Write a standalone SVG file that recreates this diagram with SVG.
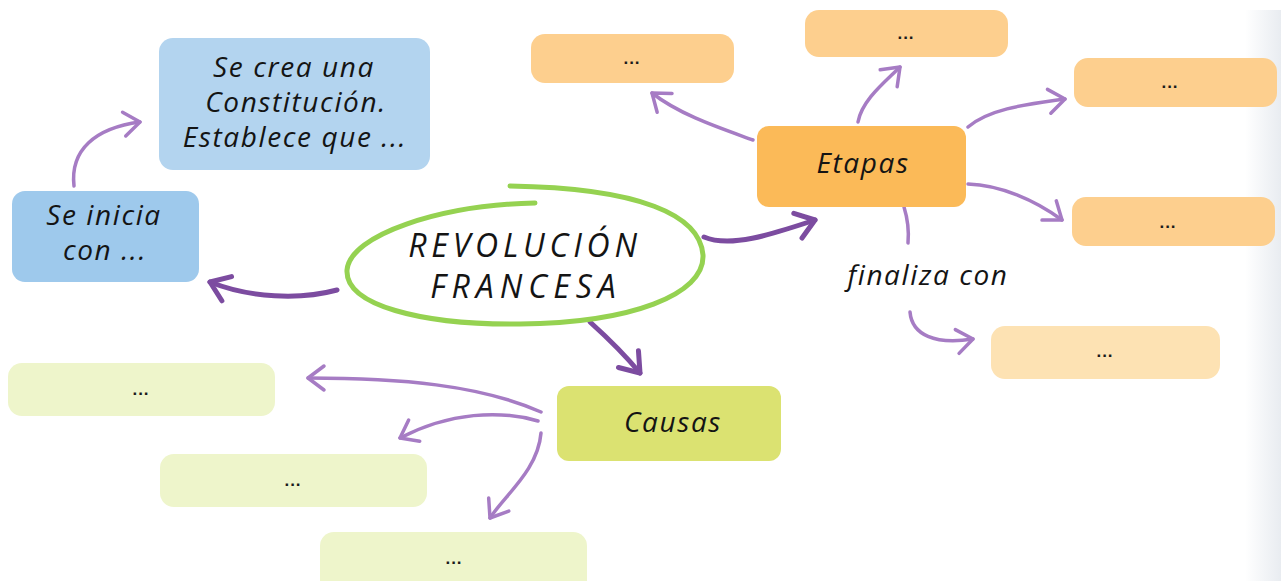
<svg xmlns="http://www.w3.org/2000/svg" width="1281" height="581" viewBox="0 0 1281 581">
<style>
.t{font-family:"Open Sans","Liberation Sans",sans-serif;font-style:italic;fill:#141414;text-anchor:middle}
.m{font-size:28px;letter-spacing:1.6px}
.big{font-size:32px;letter-spacing:4.8px}
.dots{font-family:"Liberation Sans",sans-serif;font-weight:bold;font-size:17px;fill:#1a1a1a;text-anchor:middle;letter-spacing:1px}
.cd{fill:none;stroke:#7c4ca0;stroke-width:5;stroke-linecap:round}
.cl{fill:none;stroke:#a67cc4;stroke-width:3.5;stroke-linecap:round}
.or{fill:#fdcf8e}
.gr{fill:#eef5cb}
</style>
<defs>
<marker id="ahd" viewBox="-22 -16 26 32" refX="0" refY="0" markerWidth="26" markerHeight="32" markerUnits="userSpaceOnUse" orient="auto" overflow="visible">
<path d="M-18,-13 L0,0 L-18,13" fill="none" stroke="#7c4ca0" stroke-width="5" stroke-linecap="round" stroke-linejoin="round"/>
</marker>
<marker id="ahl" viewBox="-20 -14 22 28" refX="0" refY="0" markerWidth="22" markerHeight="28" markerUnits="userSpaceOnUse" orient="auto" overflow="visible">
<path d="M-16,-12 L0,0 L-16,12" fill="none" stroke="#a67cc4" stroke-width="3.5" stroke-linecap="round" stroke-linejoin="round"/>
</marker>
<linearGradient id="edge" x1="0" y1="0" x2="1" y2="0">
<stop offset="0" stop-color="#e6eaef" stop-opacity="0"/>
<stop offset="1" stop-color="#e6eaef" stop-opacity="0.9"/>
</linearGradient>
</defs>
<rect width="1281" height="581" fill="#ffffff"/>
<rect x="1245" y="10" width="36" height="571" fill="url(#edge)"/>

<g id="connectors">
<path class="cd" d="M337,290 C300,300 250,298 210,282" marker-end="url(#ahd)"/>
<path class="cl" d="M74,186 C70,150 95,128 140,122" marker-end="url(#ahl)"/>
<path class="cd" d="M704,237 C730,248 770,235 815,220" marker-end="url(#ahd)"/>
<path class="cd" d="M590,322 C610,340 625,355 640,373" marker-end="url(#ahd)"/>
<path class="cl" d="M753,140 C720,128 680,115 652,93" marker-end="url(#ahl)"/>
<path class="cl" d="M858,122 C862,100 885,82 900,67" marker-end="url(#ahl)"/>
<path class="cl" d="M968,127 C990,108 1030,104 1065,99" marker-end="url(#ahl)"/>
<path class="cl" d="M968,184 C1000,185 1035,200 1062,220" marker-end="url(#ahl)"/>
<path class="cl" d="M904,207 C908,220 909,232 908,243"/>
<path class="cl" d="M910,312 C912,335 935,345 973,339" marker-end="url(#ahl)"/>
<path class="cl" d="M541,412 C480,385 400,378 308,378" marker-end="url(#ahl)"/>
<path class="cl" d="M538,421 C500,410 450,412 400,438" marker-end="url(#ahl)"/>
<path class="cl" d="M541,433 C538,470 505,495 490,518" marker-end="url(#ahl)"/>
</g>

<g id="center">
<path d="M535,203 C440,205 350,235 347,270 C345,305 420,325 520,324 C630,323 705,295 703,255 C700,215 640,188 510,186" fill="none" stroke="#95d251" stroke-width="5" stroke-linecap="round"/>
<text class="t big" x="525" y="257">REVOLUCIÓN</text>
<text class="t big" x="526" y="298" style="letter-spacing:6px">FRANCESA</text>
</g>

<g id="constitucion">
<rect x="159" y="38" width="271" height="132" rx="14" fill="#b3d4ef"/>
<text class="t m" x="294" y="77">Se crea una</text>
<text class="t m" x="296" y="112">Constitución.</text>
<text class="t m" x="295" y="147">Establece que ...</text>
</g>

<g id="inicia">
<rect x="12" y="191" width="187" height="91" rx="13" fill="#9ec9ec"/>
<text class="t m" x="104" y="225">Se inicia</text>
<text class="t m" x="105" y="260">con ...</text>
</g>

<g id="etapas">
<rect x="757" y="126" width="209" height="81" rx="12" fill="#fbba58"/>
<text class="t m" x="863" y="173">Etapas</text>
</g>

<g id="etapa1">
<rect class="or" x="531" y="34" width="203" height="49" rx="14"/>
<text class="dots" x="632" y="64">...</text>
</g>
<g id="etapa2">
<rect class="or" x="805" y="10" width="203" height="47" rx="14"/>
<text class="dots" x="906" y="39">...</text>
</g>
<g id="etapa3">
<rect class="or" x="1074" y="58" width="203" height="49" rx="14"/>
<text class="dots" x="1170" y="88">...</text>
</g>
<g id="etapa4">
<rect class="or" x="1072" y="197" width="203" height="49" rx="14"/>
<text class="dots" x="1168" y="228">...</text>
</g>

<g id="finaliza-label">
<text class="t m" x="928" y="285">finaliza con</text>
</g>
<g id="final">
<rect x="991" y="326" width="229" height="53" rx="14" fill="#fde2b3"/>
<text class="dots" x="1105" y="357">...</text>
</g>

<g id="causas">
<rect x="557" y="386" width="224" height="75" rx="12" fill="#dbe271"/>
<text class="t m" x="673" y="432">Causas</text>
</g>

<g id="causa1">
<rect class="gr" x="8" y="363" width="267" height="53" rx="14"/>
<text class="dots" x="141" y="395">...</text>
</g>
<g id="causa2">
<rect class="gr" x="160" y="454" width="267" height="53" rx="14"/>
<text class="dots" x="293" y="486">...</text>
</g>
<g id="causa3">
<rect class="gr" x="320" y="532" width="267" height="62" rx="14"/>
<text class="dots" x="454" y="564">...</text>
</g>
</svg>
